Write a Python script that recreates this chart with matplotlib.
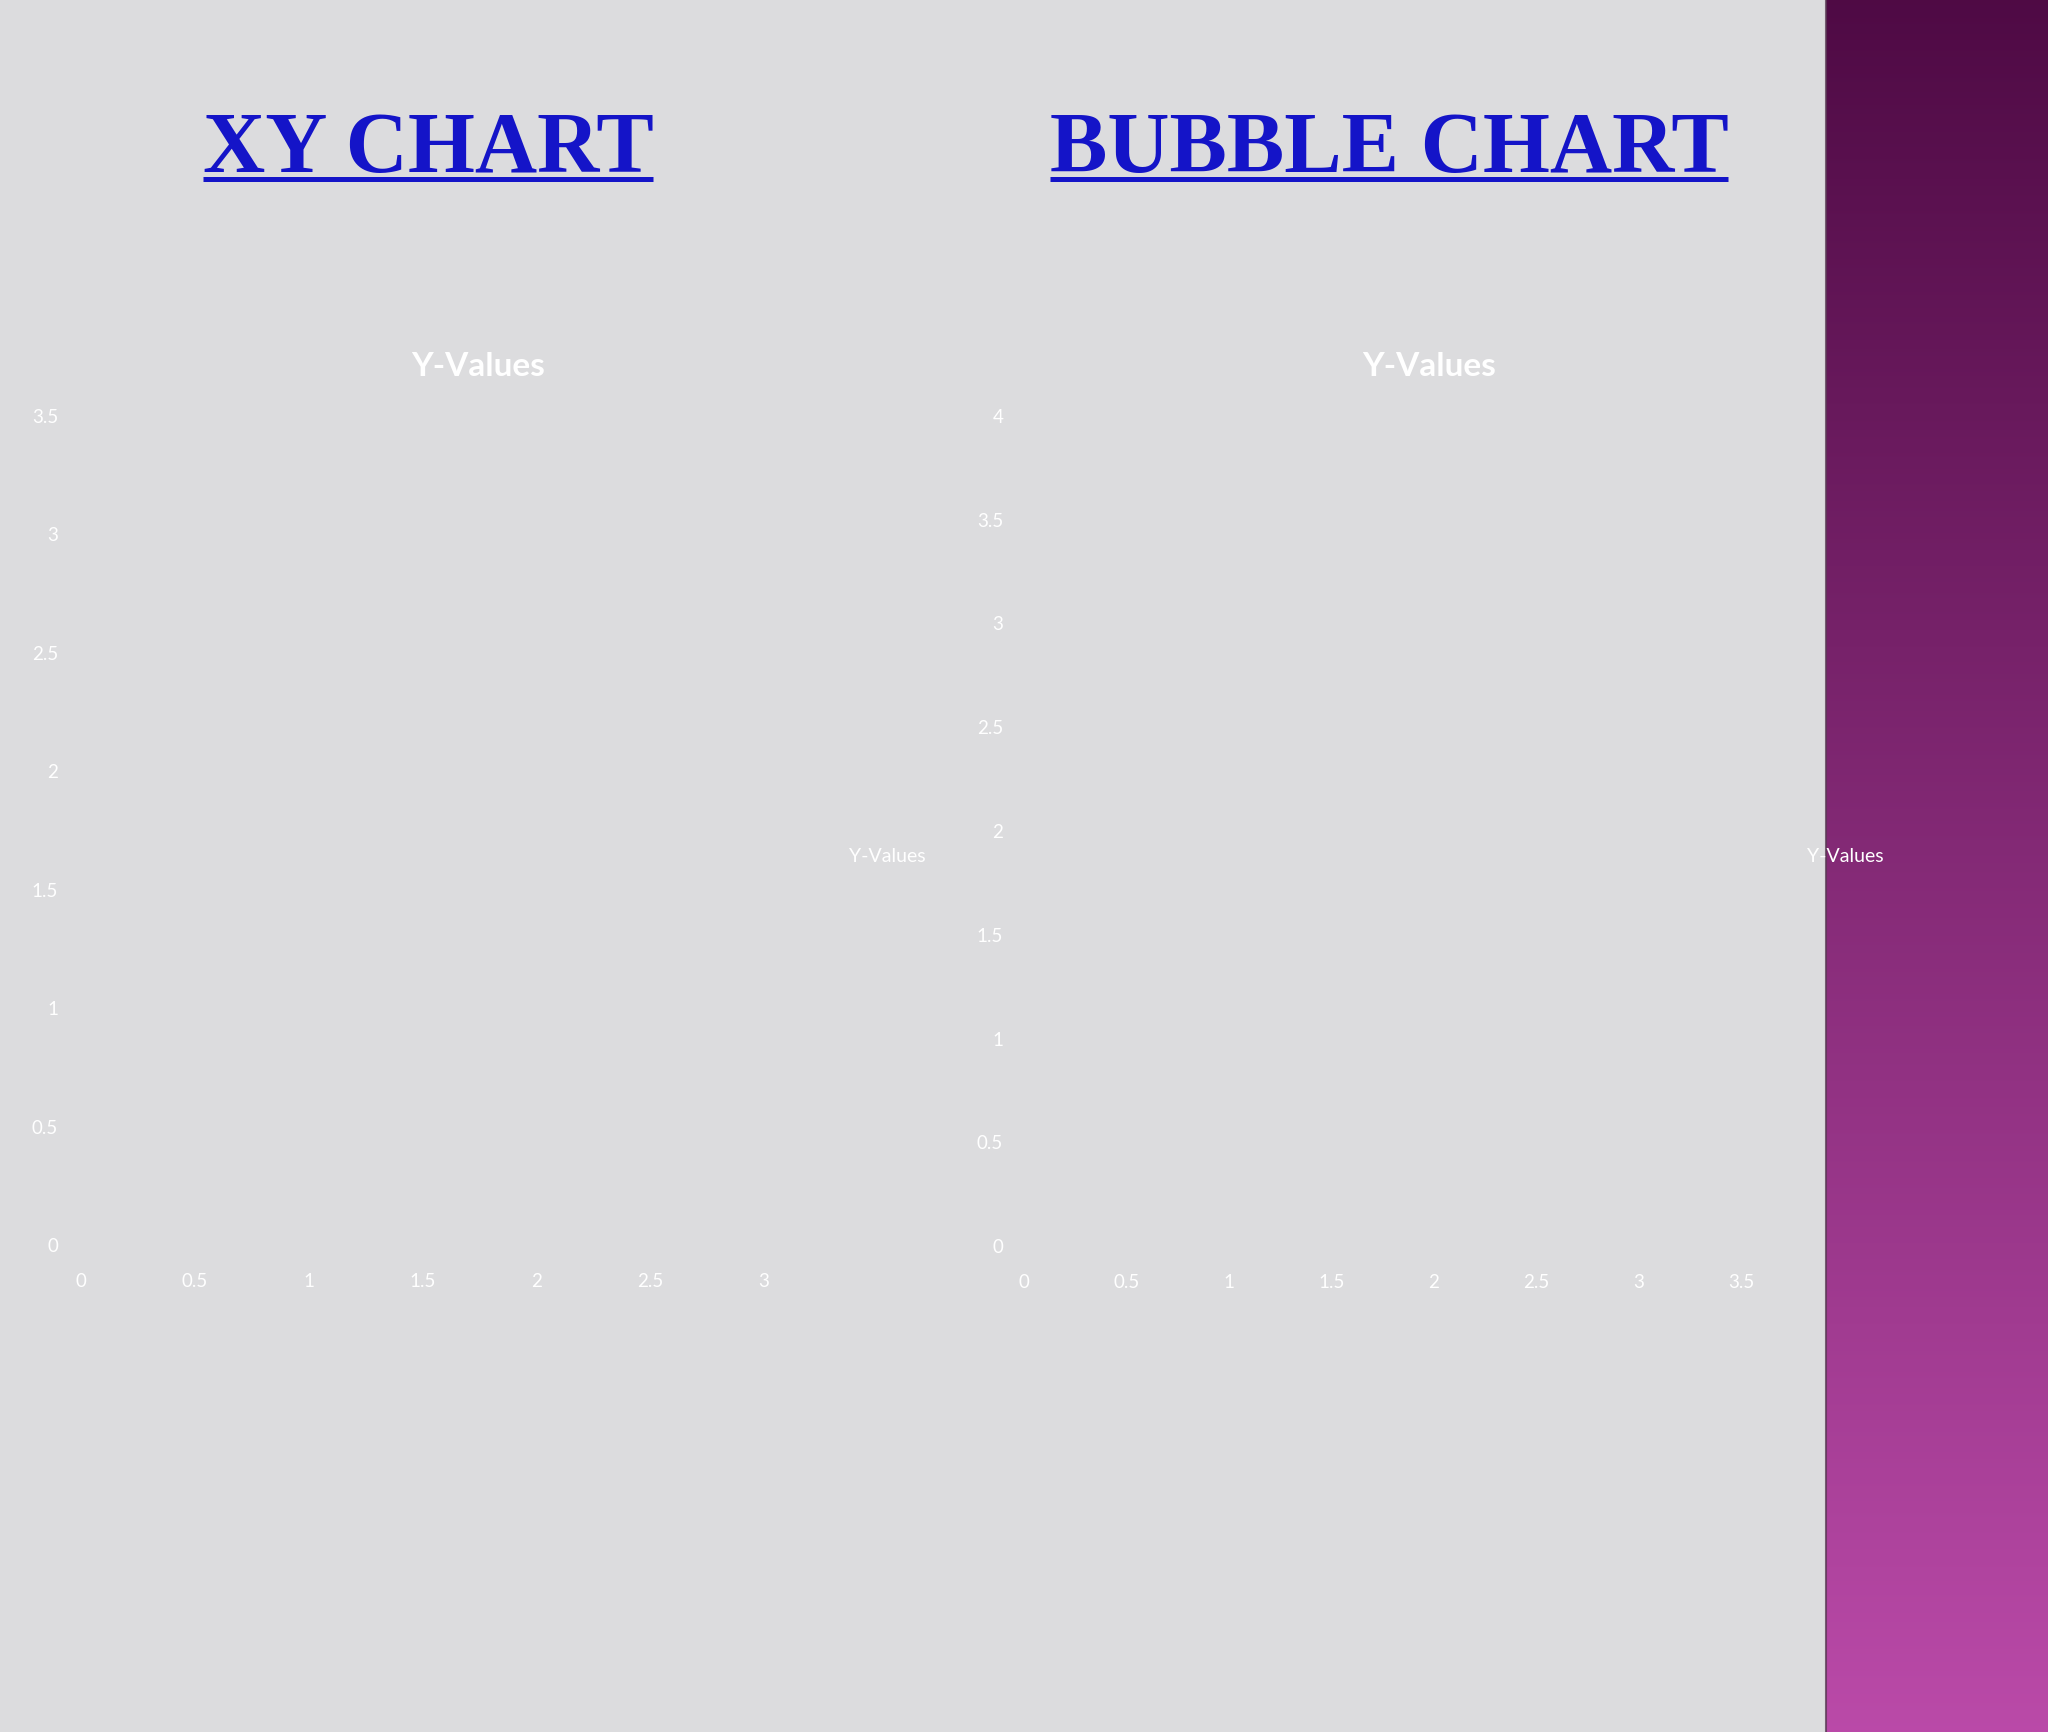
import matplotlib
matplotlib.use("Agg")
import matplotlib.pyplot as plt
import numpy as np
from matplotlib.lines import Line2D
from matplotlib.patches import Rectangle

# ---------------- data ----------------
slide_titles = ["XY CHART", "BUBBLE CHART"]
series_name = "Y-Values"
chart_title = "Y-Values"

# both charts contain no visible points
xy_x = []
xy_y = []
bubble_x = []
bubble_y = []
bubble_size = []

xy_xticks = [0, 0.5, 1, 1.5, 2, 2.5, 3]
xy_xlabels = ["0", "0.5", "1", "1.5", "2", "2.5", "3"]
xy_yticks = [0, 0.5, 1, 1.5, 2, 2.5, 3, 3.5]
xy_ylabels = ["0", "0.5", "1", "1.5", "2", "2.5", "3", "3.5"]

bubble_xticks = [0, 0.5, 1, 1.5, 2, 2.5, 3, 3.5]
bubble_xlabels = ["0", "0.5", "1", "1.5", "2", "2.5", "3", "3.5"]
bubble_yticks = [0, 0.5, 1, 1.5, 2, 2.5, 3, 3.5, 4]
bubble_ylabels = ["0", "0.5", "1", "1.5", "2", "2.5", "3", "3.5", "4"]

# ---------------- layout helpers ----------------
W, H = 2048, 1733
DPI = 100
PANEL_X = 1826


def fx(px):
    return px / W


def fy(py):
    return 1 - py / H


fig = plt.figure(figsize=(W / DPI, H / DPI), dpi=DPI)

# background: marble-like grey + purple gradient side panel
bg = fig.add_axes([0, 0, 1, 1])
bg.axis("off")
bg.add_patch(Rectangle((0, 0), PANEL_X, H, facecolor="#dcdcde", edgecolor="none"))
grad = np.linspace(0, 1, 256)[:, None, None]
top_c = np.array([0.31, 0.04, 0.27])
bot_c = np.array([0.73, 0.29, 0.66])
img = top_c + grad * (bot_c - top_c)
bg.imshow(img, extent=(PANEL_X, W, H, 0), aspect="auto", interpolation="bilinear")
bg.plot([PANEL_X, PANEL_X], [0, H], color="#5a3a55", lw=1.5, alpha=0.8)
bg.set_xlim(0, W)
bg.set_ylim(H, 0)

# slide titles
title_font = dict(fontsize=62, fontweight="bold", family="Liberation Serif",
                  color="#1414c8")
title_texts = []
for label, cx in zip(slide_titles, [428, 1389]):
    t = fig.text(fx(cx), fy(172), label, ha="center", va="baseline", **title_font)
    title_texts.append(t)

fig.canvas.draw()
renderer = fig.canvas.get_renderer()
for t in title_texts:
    bb = t.get_window_extent(renderer)
    fig.add_artist(Line2D([bb.x0 / W, bb.x1 / W], [fy(180), fy(180)],
                          transform=fig.transFigure, color="#1414c8", lw=3.6,
                          solid_capstyle="butt"))

FONT = ["Lato", "DejaVu Sans"]


def style_axes(ax, xticks, xlabels, yticks, ylabels, ypad):
    ax.patch.set_alpha(0)
    for s in ax.spines.values():
        s.set_visible(False)
    ax.set_xticks(xticks)
    ax.set_xticklabels(xlabels)
    ax.set_yticks(yticks)
    ax.set_yticklabels(ylabels)
    ax.tick_params(axis="both", length=0, labelcolor="white", labelsize=13.5)
    ax.tick_params(axis="x", pad=20)
    ax.tick_params(axis="y", pad=ypad)
    for lab in ax.get_xticklabels() + ax.get_yticklabels():
        lab.set_family(FONT)


# XY chart
ax1 = fig.add_axes([fx(81), fy(1245), fx(764) - fx(81), (1245 - 416) / H])
ax1.scatter(xy_x, xy_y, color="#4f81bd", label=series_name)
ax1.set_xlim(0, 3)
ax1.set_ylim(0, 3.5)
style_axes(ax1, xy_xticks, xy_xlabels, xy_yticks, xy_ylabels, 16.5)

# Bubble chart
ax2 = fig.add_axes([fx(1024), fy(1246), fx(1741) - fx(1024), (1246 - 416) / H])
ax2.scatter(bubble_x, bubble_y, s=bubble_size, color="#4f81bd", label=series_name)
ax2.set_xlim(0, 3.5)
ax2.set_ylim(0, 4)
style_axes(ax2, bubble_xticks, bubble_xlabels, bubble_yticks, bubble_ylabels, 15)

# chart titles
for cx in [478, 1429]:
    fig.text(fx(cx), fy(366), chart_title, ha="center", va="center",
             fontsize=24, fontweight="bold", family=FONT, color="white")

# legends
for ax, cx in [(ax1, 887), (ax2, 1845)]:
    h = Line2D([], [], linestyle="none", label=series_name)
    leg = ax.legend(handles=[h], loc="center", bbox_to_anchor=(fx(cx), fy(856)),
                    bbox_transform=fig.transFigure, frameon=False,
                    handlelength=0, handletextpad=0, borderpad=0,
                    prop={"family": FONT, "size": 14})
    for txt in leg.get_texts():
        txt.set_color("white")

fig.savefig("out.png", dpi=DPI)
